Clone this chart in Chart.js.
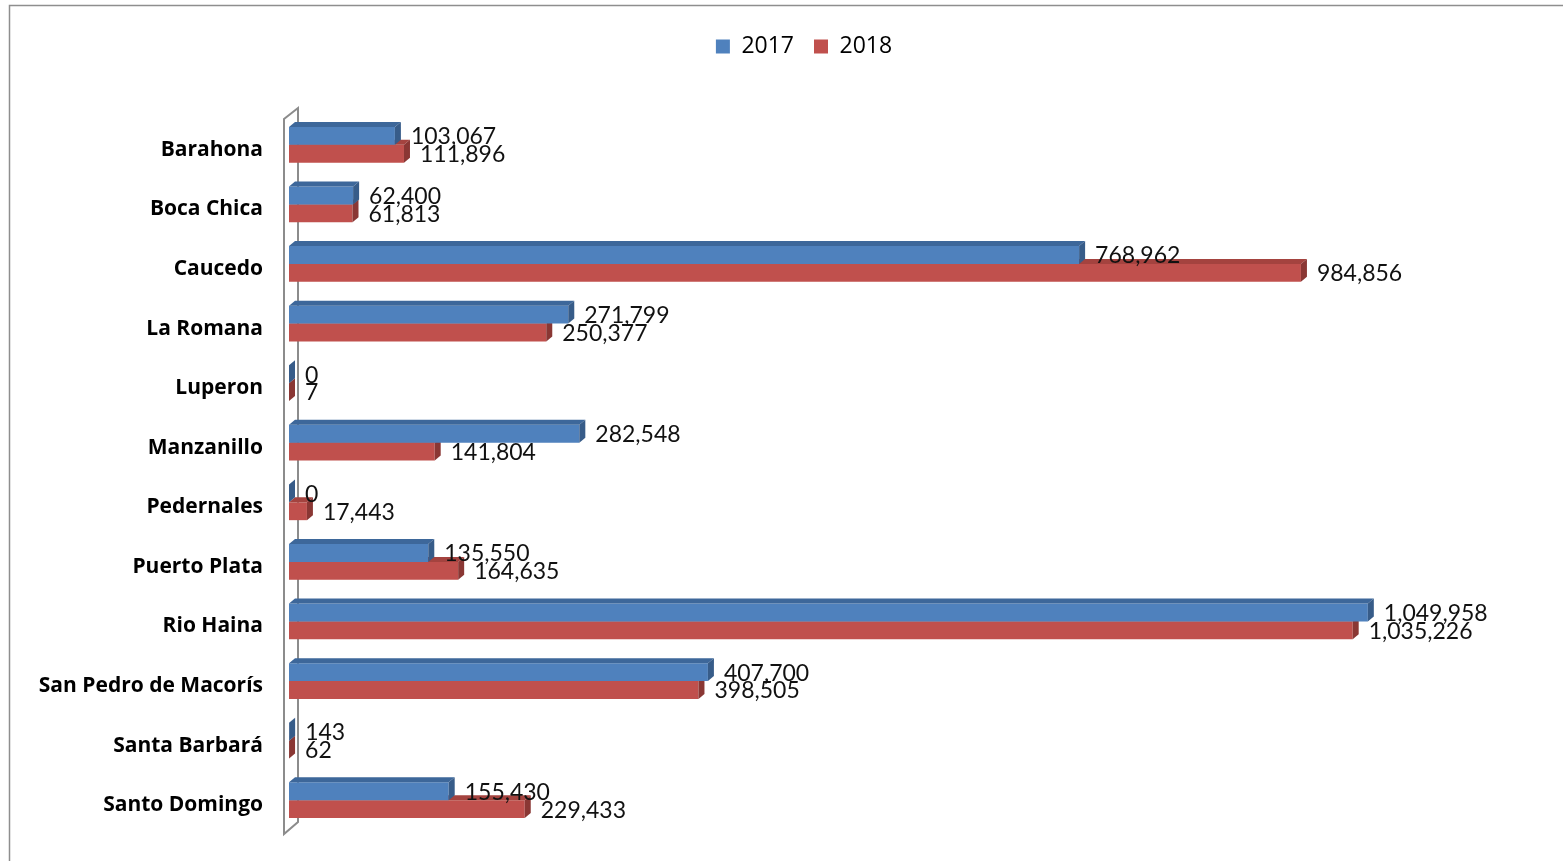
<!DOCTYPE html>
<html lang="es">
<head>
    <meta charset="UTF-8">
    <title>Puertos 2017 - 2018</title>
    <script src="https://cdn.jsdelivr.net/npm/chart.js"></script>
    <style>
        html, body { margin: 0; padding: 0; background: #ffffff; }
        .chart-container { position: relative; width: 1563px; height: 861px; }
    </style>
</head>
<body>
    <div class="chart-container">
        <canvas id="graficoPuertos"></canvas>
    </div>

    <script>
        const puertos = ['Barahona', 'Boca Chica', 'Caucedo', 'La Romana', 'Luperon', 'Manzanillo',
            'Pedernales', 'Puerto Plata', 'Rio Haina', 'San Pedro de Macorís', 'Santa Barbará', 'Santo Domingo'];
        const valores2017 = [103067, 62400, 768962, 271799, 0, 282548, 0, 135550, 1049958, 407700, 143, 155430];
        const valores2018 = [111896, 61813, 984856, 250377, 7, 141804, 17443, 164635, 1035226, 398505, 62, 229433];
        const escalaMax = 1200000;

        // cores das faces 3D por dataset
        const faces = [
            { topo: '#3d679a', lado: '#375c89' },
            { topo: '#a4433f', lado: '#8a3734' }
        ];
        const prof = { dx: 6, dy: 5 };

        const moldura = {
            id: 'moldura',
            afterLayout(chart) {
                // legenda um pouco à direita, como no original
                chart.legend.left += 86;
            },
            beforeDraw(chart) {
                const ctx = chart.ctx;
                ctx.save();
                ctx.strokeStyle = '#8e8e8e';
                ctx.lineWidth = 1.5;
                ctx.beginPath();
                ctx.moveTo(9.5, chart.height);
                ctx.lineTo(9.5, 5.5);
                ctx.lineTo(chart.width, 5.5);
                ctx.stroke();
                ctx.restore();
            },
            beforeDatasetsDraw(chart) {
                const a = chart.chartArea;
                const ctx = chart.ctx;
                ctx.save();
                ctx.strokeStyle = '#8c8c8c';
                ctx.lineWidth = 2;
                ctx.beginPath();
                ctx.moveTo(a.left - 5, a.bottom + 4);
                ctx.lineTo(a.left - 5, a.top + 4);
                ctx.lineTo(a.left + 9, a.top - 7);
                ctx.lineTo(a.left + 9, a.bottom - 8);
                ctx.closePath();
                ctx.stroke();
                ctx.restore();
            }
        };

        const barras3d = {
            id: 'barras3d',
            afterDatasetDraw(chart, args) {
                const ctx = chart.ctx;
                const cor = faces[args.index];
                const meta = args.meta;
                ctx.save();
                meta.data.forEach(bar => {
                    const h = bar.height;
                    const x0 = bar.base, x1 = bar.x;
                    const yt = bar.y - h / 2, yb = bar.y + h / 2;
                    ctx.fillStyle = cor.topo;
                    ctx.beginPath();
                    ctx.moveTo(x0, yt);
                    ctx.lineTo(x0 + prof.dx, yt - prof.dy);
                    ctx.lineTo(x1 + prof.dx, yt - prof.dy);
                    ctx.lineTo(x1, yt);
                    ctx.closePath();
                    ctx.fill();
                    ctx.fillStyle = cor.lado;
                    ctx.beginPath();
                    ctx.moveTo(x1, yt);
                    ctx.lineTo(x1 + prof.dx, yt - prof.dy);
                    ctx.lineTo(x1 + prof.dx, yb - prof.dy);
                    ctx.lineTo(x1, yb);
                    ctx.closePath();
                    ctx.fill();
                });
                ctx.restore();
            },
            afterDatasetsDraw(chart) {
                const ctx = chart.ctx;
                ctx.save();
                ctx.fillStyle = '#111111';
                ctx.font = '23px Lato';
                ctx.textBaseline = 'middle';
                ctx.textAlign = 'left';
                chart.data.datasets.forEach((ds, i) => {
                    chart.getDatasetMeta(i).data.forEach((bar, j) => {
                        ctx.fillText(ds.data[j].toLocaleString('en-US'), bar.x + 16, bar.y + 1);
                    });
                });
                ctx.restore();
            }
        };

        const ctxPuertos = document.getElementById('graficoPuertos').getContext('2d');
        const graficoPuertos = new Chart(ctxPuertos, {
            type: 'bar',
            data: {
                labels: puertos,
                datasets: [{
                    label: '2017',
                    data: valores2017,
                    backgroundColor: '#4f81bd',
                    categoryPercentage: 0.6,
                    barPercentage: 1.0
                }, {
                    label: '2018',
                    data: valores2018,
                    backgroundColor: '#c0504d',
                    categoryPercentage: 0.6,
                    barPercentage: 1.0
                }]
            },
            options: {
                indexAxis: 'y',
                responsive: true,
                maintainAspectRatio: false,
                animation: false,
                layout: { padding: { top: 15, right: 41, bottom: 31, left: 0 } },
                plugins: {
                    legend: {
                        position: 'top',
                        labels: {
                            boxWidth: 14,
                            boxHeight: 14,
                            padding: 20,
                            color: '#000000',
                            font: { family: 'Open Sans', size: 23 }
                        }
                    },
                    tooltip: { enabled: false }
                },
                scales: {
                    x: {
                        position: 'top',
                        min: 0,
                        max: escalaMax,
                        grid: { display: false, drawTicks: false },
                        border: { display: false },
                        ticks: { display: false },
                        afterFit: s => { s.height = 47; }
                    },
                    y: {
                        grid: { display: false, drawTicks: false },
                        border: { display: false },
                        ticks: {
                            color: '#000000',
                            padding: 26,
                            labelOffset: 5,
                            font: { family: 'Open Sans', size: 21, weight: 'bold' }
                        },
                        afterFit: s => {
                            s.width = 289;
                            s.paddingTop = 0;
                            s.paddingBottom = 0;
                        }
                    }
                }
            },
            plugins: [moldura, barras3d]
        });
    </script>
</body>
</html>
